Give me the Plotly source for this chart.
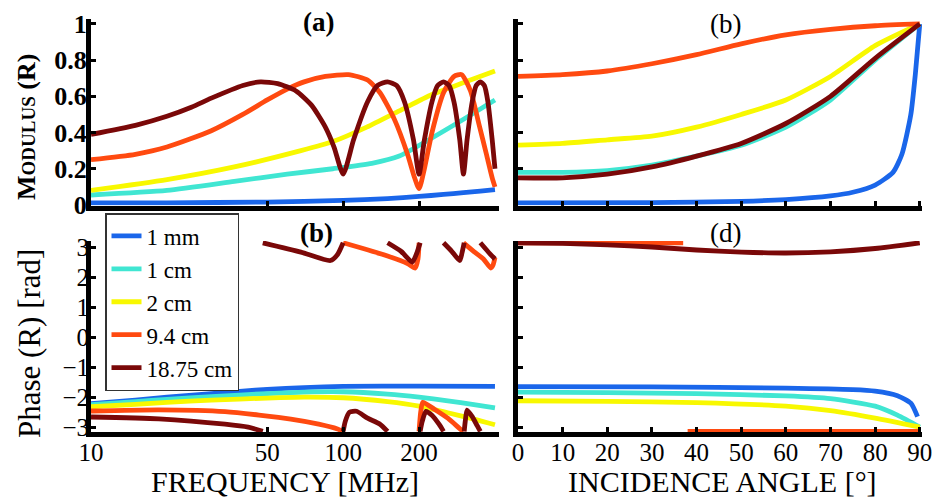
import math
import plotly.graph_objects as go

W, H = 938, 499

series_names = ["1 mm", "1 cm", "2 cm", "9.4 cm", "18.75 cm"]
series_colors = ["#1a66ea", "#40e6d2", "#f8f800", "#ff4a10", "#7a0808"]

# ---------- (a) modulus vs frequency [MHz] ----------
a_f_1mm = [10, 20, 50, 100, 150, 200, 250, 300, 350, 400]
a_r_1mm = [0.012, 0.012, 0.016, 0.025, 0.035, 0.047, 0.058, 0.068, 0.077, 0.085]
a_f_1cm = [10, 20, 37, 60, 91, 130, 167, 225, 306, 400]
a_r_1cm = [0.055, 0.08, 0.13, 0.17, 0.2, 0.23, 0.27, 0.37, 0.48, 0.58]
a_f_2cm = [10, 20, 37, 68, 91, 124, 167, 225, 306, 400]
a_r_2cm = [0.08, 0.14, 0.21, 0.30, 0.35, 0.43, 0.52, 0.61, 0.68, 0.74]
a_f_94cm = [10, 15, 20, 30, 40, 50, 60, 70, 85, 105, 125, 140, 160, 180, 192, 200,
            210, 225, 250, 275, 295, 320, 345, 370, 390, 400]
a_r_94cm = [0.25, 0.28, 0.32, 0.41, 0.5, 0.58, 0.64, 0.68, 0.71, 0.72, 0.69, 0.62, 0.47, 0.28, 0.15, 0.09,
            0.2, 0.4, 0.62, 0.71, 0.72, 0.63, 0.45, 0.28, 0.15, 0.1]
a_f_1875cm = [10, 15, 20, 25, 30, 40, 47, 55, 65, 75, 85, 92, 100, 110, 125, 137, 150, 163, 175, 190, 200,
              210, 225, 237, 250, 263, 275, 290, 300, 310, 325, 337, 350, 363, 375, 390, 400]
a_r_1875cm = [0.39, 0.44, 0.49, 0.54, 0.59, 0.66, 0.68, 0.67, 0.63, 0.55, 0.43, 0.32, 0.17, 0.36, 0.57, 0.66, 0.68, 0.66, 0.57, 0.36, 0.17,
              0.36, 0.57, 0.66, 0.68, 0.66, 0.57, 0.36, 0.17, 0.36, 0.57, 0.66, 0.68, 0.66, 0.57, 0.36, 0.2]

# ---------- (b) modulus vs incidence angle [deg] ----------
b_ang_1mm = [0, 30, 50, 60, 70, 75, 80, 84, 86, 88, 89, 90]
b_r_1mm = [0.012, 0.013, 0.02, 0.03, 0.05, 0.07, 0.11, 0.18, 0.28, 0.5, 0.72, 1.0]
b_ang = [0, 10, 20, 30, 40, 50, 60, 70, 80, 90]
b_r_1cm = [0.18, 0.18, 0.19, 0.22, 0.27, 0.33, 0.43, 0.58, 0.8, 1.0]
b_r_2cm = [0.33, 0.34, 0.36, 0.38, 0.43, 0.5, 0.58, 0.71, 0.88, 1.0]
b_r_94cm = [0.71, 0.72, 0.74, 0.78, 0.83, 0.89, 0.94, 0.97, 0.99, 1.0]
b_r_1875cm = [0.15, 0.15, 0.17, 0.21, 0.27, 0.34, 0.45, 0.6, 0.81, 1.0]

# ---------- (c) phase vs frequency [MHz] (None = wrap at +/- pi) ----------
c_f_1mm = [10, 15, 20, 30, 40, 50, 70, 100, 200, 400]
c_p_1mm = [-2.22, -2.1, -2.0, -1.88, -1.8, -1.74, -1.68, -1.64, -1.63, -1.64]
c_f_1cm = [10, 15, 20, 30, 50, 70, 100, 150, 200, 260, 330, 400]
c_p_1cm = [-2.25, -2.15, -2.07, -1.98, -1.88, -1.83, -1.82, -1.9, -2.0, -2.12, -2.25, -2.36]
c_f_2cm = [10, 15, 20, 30, 50, 70, 100, 150, 200, 260, 330, 400]
c_p_2cm = [-2.32, -2.24, -2.17, -2.1, -2.03, -2.0, -2.02, -2.15, -2.3, -2.52, -2.73, -2.92]
c_f_94cm = [10, 18.6, 34, 62, 80, 95, 100, None,
            100, 120, 150, 180, 193, 198, 200, None,
            200, 203, 207, 230, 260, 295, 300, None,
            300, 330, 360, 385, 393, 400]
c_p_94cm = [-2.46, -2.42, -2.48, -2.73, -2.9, -3.06, -3.14, None,
            3.14, 2.95, 2.7, 2.45, 2.3, 2.6, 3.14, None,
            -3.14, -2.5, -2.17, -2.4, -2.7, -3.1, -3.14, None,
            3.14, 2.85, 2.6, 2.3, 2.4, 2.65]
c_f_1875cm = [10, 18.6, 34, 42, 48, None,
              48, 68, 89, 95, 100, None,
              100, 102, 106, 113, 125, 140, 150, None,
              150, 170, 188, 196, 202, None,
              202, 206, 213, 225, 240, 250, None,
              250, 270, 290, 296, 302, None,
              302, 305, 310, 325, 340, 350, None,
              350, 375, 400]
c_p_1875cm = [-2.66, -2.72, -2.9, -3.0, -3.14, None,
              3.14, 2.83, 2.55, 2.75, 3.14, None,
              -3.14, -2.8, -2.5, -2.47, -2.7, -2.9, -3.14, None,
              3.14, 2.85, 2.5, 2.8, 3.14, None,
              -3.14, -2.8, -2.47, -2.6, -2.9, -3.14, None,
              3.14, 2.85, 2.55, 2.8, 3.14, None,
              -3.14, -2.8, -2.43, -2.65, -2.95, -3.14, None,
              3.14, 2.85, 2.6]

# ---------- (d) phase vs incidence angle [deg] ----------
d_ang_1mm = [0, 30, 60, 75, 80, 85, 88, 89.5]
d_p_1mm = [-1.65, -1.66, -1.7, -1.75, -1.8, -1.95, -2.2, -2.65]
d_ang = [0, 20, 40, 60, 70, 80, 85, 90]
d_p_1cm = [-1.83, -1.85, -1.88, -1.96, -2.05, -2.3, -2.6, -3.0]
d_ang2 = [0, 20, 40, 60, 70, 80, 90]
d_p_2cm = [-2.12, -2.14, -2.18, -2.3, -2.45, -2.7, -3.0]
d_ang_94cm = [0, 37, None, 38, 90]
d_p_94cm = [3.14, 3.14, None, -3.14, -3.14]
d_ang_1875cm = [0, 10, 20, 30, 40, 50, 60, 70, 80, 90]
d_p_1875cm = [3.14, 3.12, 3.07, 3.0, 2.9, 2.83, 2.8, 2.84, 2.95, 3.14]

freq_tickvals = [10, 50, 100, 200]
freq_ticktext = ["10", "50", "100", "200"]
ang_tickvals = [0, 10, 20, 30, 40, 50, 60, 70, 80, 90]
mod_tickvals = [0, 0.2, 0.4, 0.6, 0.8, 1]
mod_ticktext = ["0", "0.2", "0.4", "0.6", "0.8", "1"]
phase_tickvals = [-3, -2, -1, 0, 1, 2, 3]

FONT = "Liberation Serif, Times New Roman, DejaVu Serif, serif"

fig = go.Figure()


def add(xs, ys, i, xa, ya, legend=False):
    fig.add_trace(go.Scatter(
        x=xs, y=ys, mode="lines", name=series_names[i],
        line=dict(color=series_colors[i], width=4.8, shape="spline", smoothing=0.6),
        xaxis=xa, yaxis=ya, showlegend=legend, connectgaps=False, legendgroup=str(i)))


add(a_f_1mm, a_r_1mm, 0, "x", "y", True)
add(a_f_1cm, a_r_1cm, 1, "x", "y", True)
add(a_f_2cm, a_r_2cm, 2, "x", "y", True)
add(a_f_94cm, a_r_94cm, 3, "x", "y", True)
add(a_f_1875cm, a_r_1875cm, 4, "x", "y", True)

add(b_ang_1mm, b_r_1mm, 0, "x2", "y2")
add(b_ang, b_r_1cm, 1, "x2", "y2")
add(b_ang, b_r_2cm, 2, "x2", "y2")
add(b_ang, b_r_94cm, 3, "x2", "y2")
add(b_ang, b_r_1875cm, 4, "x2", "y2")

add(c_f_1mm, c_p_1mm, 0, "x3", "y3")
add(c_f_1cm, c_p_1cm, 1, "x3", "y3")
add(c_f_2cm, c_p_2cm, 2, "x3", "y3")
add(c_f_94cm, c_p_94cm, 3, "x3", "y3")
add(c_f_1875cm, c_p_1875cm, 4, "x3", "y3")

add(d_ang_1mm, d_p_1mm, 0, "x4", "y4")
add(d_ang, d_p_1cm, 1, "x4", "y4")
add(d_ang2, d_p_2cm, 2, "x4", "y4")
add(d_ang_94cm, d_p_94cm, 3, "x4", "y4")
add(d_ang_1875cm, d_p_1875cm, 4, "x4", "y4")

# pixel geometry of the plot areas
LX0, LX1 = 91, 499
RX0, RX1 = 518, 922
TY0, TY1 = 18.5, 205.5
BY0, BY1 = 241, 432.0


def xdom(a, b):
    return [a / W, b / W]


def ydom(top, bottom):
    return [1 - bottom / H, 1 - top / H]


axis_common = dict(showline=True, linecolor="black", linewidth=5, ticks="inside",
                   ticklen=5, tickwidth=3, tickcolor="black", showgrid=False,
                   zeroline=False, mirror=False, automargin=False)
tick_font = dict(family=FONT, size=25, color="black")
tick_font_b = dict(family=FONT, size=26, color="black", weight="bold")

fig.update_layout(
    template="none",
    width=W, height=H, margin=dict(l=0, r=0, t=0, b=0, pad=0, autoexpand=False),
    paper_bgcolor="white", plot_bgcolor="white",
    font=dict(family=FONT, color="black"),
    xaxis=dict(axis_common, domain=xdom(LX0, LX1), type="log", range=[1, math.log10(415)],
               tickvals=freq_tickvals, showticklabels=False, anchor="y"),
    yaxis=dict(axis_common, domain=ydom(TY0, TY1), range=[-0.003, 1.03],
               tickvals=mod_tickvals, ticktext=mod_ticktext, tickfont=tick_font_b,
               ticklabelstandoff=-6, anchor="x"),
    xaxis2=dict(axis_common, domain=xdom(RX0, RX1), range=[0, 90.5],
                tickvals=ang_tickvals, showticklabels=False, anchor="y2"),
    yaxis2=dict(axis_common, domain=ydom(TY0, TY1), range=[-0.003, 1.03],
                tickvals=mod_tickvals, showticklabels=False, anchor="x2"),
    xaxis3=dict(axis_common, domain=xdom(LX0, LX1), type="log", range=[1, math.log10(415)],
                tickvals=freq_tickvals, ticktext=freq_ticktext, tickfont=tick_font,
                ticklabelstandoff=-6, anchor="y3"),
    yaxis3=dict(axis_common, domain=ydom(BY0, BY1), range=[-3.16, 3.2],
                tickvals=phase_tickvals, tickfont=tick_font, ticklabelstandoff=-8, anchor="x3"),
    xaxis4=dict(axis_common, domain=xdom(RX0, RX1), range=[0, 90.5],
                tickvals=ang_tickvals, tickfont=tick_font, ticklabelstandoff=-6, anchor="y4"),
    yaxis4=dict(axis_common, domain=ydom(BY0, BY1), range=[-3.16, 3.2],
                tickvals=phase_tickvals, showticklabels=False, anchor="x4"),
    legend=dict(x=105 / W, y=1 - 213 / H, xanchor="left", yanchor="top",
                bgcolor="white", bordercolor="#333333", borderwidth=1.5,
                font=dict(family=FONT, size=23, color="black"),
                tracegroupgap=0, itemwidth=30),
    showlegend=True,
)


def ann(text, px, py, size, bold=False, angle=0):
    fig.add_annotation(text=text, x=px / W, y=1 - py / H, xref="paper", yref="paper",
                       showarrow=False, textangle=angle, xanchor="center", yanchor="middle",
                       font=dict(family=FONT, size=size, color="black",
                                 weight="bold" if bold else "normal"))


ann("(a)", 318, 22, 27, True)
ann("(b)", 725, 24, 27)
ann("(b)", 316, 233, 27, True)
ann("(d)", 725, 233, 27)
ann("M<span style='font-size:19px'>ODULUS</span> (R)", 27, 127, 26, True, -90)
ann("Phase (R) [rad]", 29, 344, 31, False, -90)
ann("FREQUENCY [MHz]", 285, 481, 30)
ann("INCIDENCE ANGLE [°]", 722, 481, 30)

fig.write_html("out.html", config={"displayModeBar": False},
               post_script="document.body.style.margin='0px';document.body.style.padding='0px';")
